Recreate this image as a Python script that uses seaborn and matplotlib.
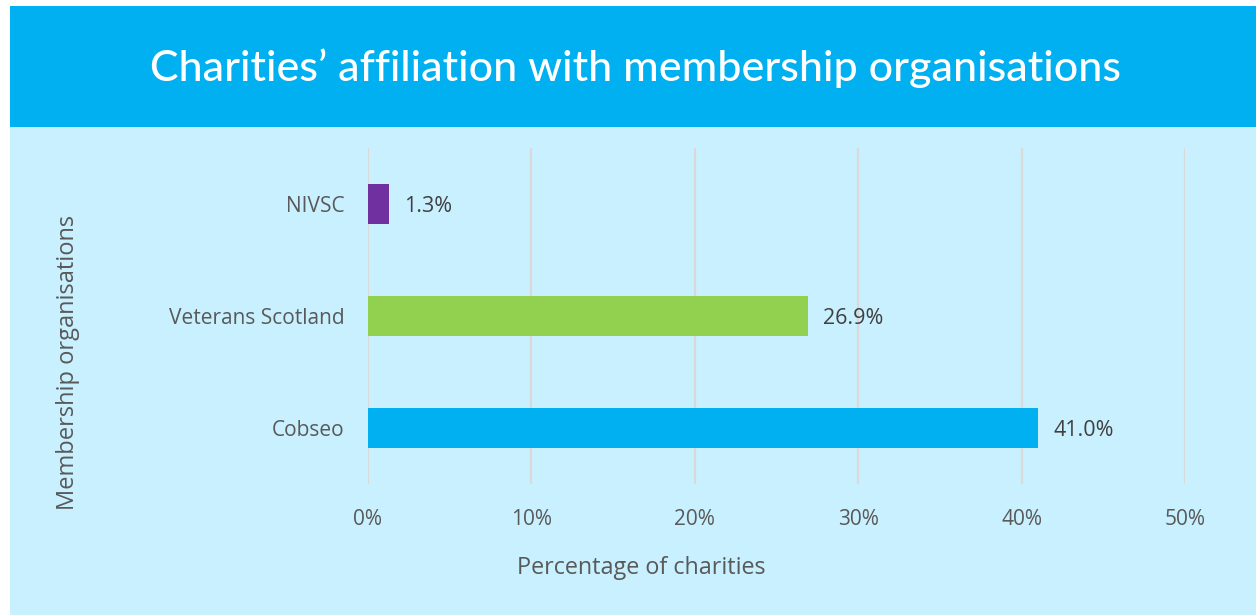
import matplotlib
matplotlib.use("Agg")
import matplotlib.pyplot as plt
import seaborn as sns
import pandas as pd
from matplotlib.patches import Rectangle
from matplotlib.ticker import FuncFormatter

categories = ["NIVSC", "Veterans Scotland", "Cobseo"]
values = [1.3, 26.9, 41.0]
colors = ["#7030A0", "#92D050", "#00B0F0"]
x_ticks = [0, 10, 20, 30, 40, 50]
title = "Charities\u2019 affiliation with membership organisations"
x_label = "Percentage of charities"
y_label = "Membership organisations"

sns.set_theme(style="white")
plt.rcParams["font.family"] = ["Open Sans", "DejaVu Sans"]

W, H = 1256, 615
fig = plt.figure(figsize=(W / 100, H / 100), dpi=100)
fig.patch.set_facecolor("white")

bg = "#C9F0FE"
fig.patches.append(Rectangle((10 / W, 0), 1 - 10 / W, 1 - 127 / H, transform=fig.transFigure,
                             facecolor=bg, edgecolor="none", zorder=-10))
fig.patches.append(Rectangle((10 / W, 1 - 127 / H), 1 - 10 / W, (127 - 6) / H, transform=fig.transFigure,
                             facecolor="#00B0F0", edgecolor="none", zorder=-10))
fig.text(636 / W, 1 - 68 / H, title, ha="center", va="center", color="white",
         fontsize=31, family=["Lato", "DejaVu Sans"], fontweight="medium")

ax = fig.add_axes([368 / W, 1 - 484 / H, (1185 - 368) / W, (484 - 148) / H])
ax.set_facecolor("none")

df = pd.DataFrame({"cat": categories, "val": values})
sns.barplot(data=df, y="cat", x="val", hue="cat", order=categories, hue_order=categories,
            palette=colors, orient="h", width=0.357, saturation=1, legend=False, ax=ax,
            zorder=3, linewidth=0, edgecolor="none")

ax.set_xlim(0, 50)
ax.set_ylim(2.5, -0.5)
ax.set_xticks(x_ticks)
ax.xaxis.set_major_formatter(FuncFormatter(lambda v, p: f"{int(v)}%"))
ax.grid(axis="x", color="#D9D9D9", linewidth=1.6, zorder=0)
ax.grid(axis="y", visible=False)
for s in ax.spines.values():
    s.set_visible(False)
ax.tick_params(axis="x", length=0, pad=18, labelsize=15, labelcolor="#595959")
ax.tick_params(axis="y", length=0, pad=17, labelsize=15, labelcolor="#595959")

for i, v in enumerate(values):
    ax.annotate(f"{v:.1f}%", xy=(v, i), xytext=(11, -2), textcoords="offset points",
                ha="left", va="center", fontsize=15.5, color="#404040")

ax.set_xlabel("")
ax.set_ylabel("")
fig.text(641 / W, 1 - 568 / H, x_label, ha="center", va="center",
         fontsize=16.8, color="#595959")
fig.text(68 / W, 1 - 362 / H, y_label, rotation=90, ha="center", va="center",
         fontsize=17, color="#595959")

fig.savefig("out.png", dpi=100)
